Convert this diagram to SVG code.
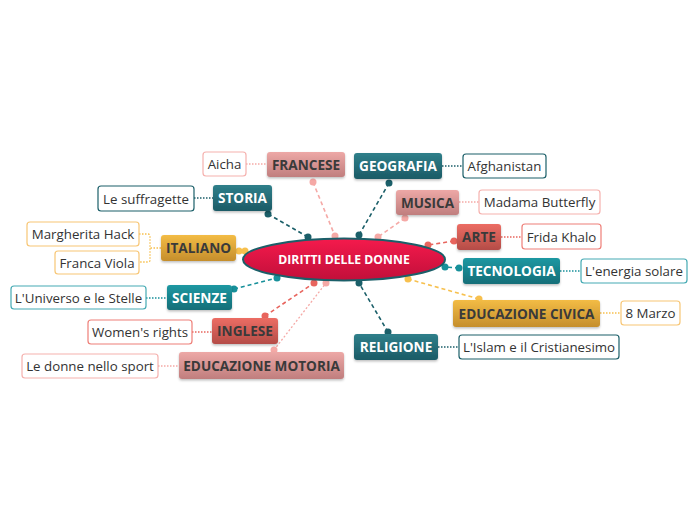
<svg xmlns="http://www.w3.org/2000/svg" width="697" height="520" viewBox="0 0 697 520">
<defs>
<linearGradient id="gPink" x1="0" y1="0" x2="0" y2="1"><stop offset="0" stop-color="#eda8a6"/><stop offset="1" stop-color="#c07e7e"/></linearGradient>
<linearGradient id="gTeal" x1="0" y1="0" x2="0" y2="1"><stop offset="0" stop-color="#2f7f8a"/><stop offset="1" stop-color="#1b5b66"/></linearGradient>
<linearGradient id="gBright" x1="0" y1="0" x2="0" y2="1"><stop offset="0" stop-color="#1d98a2"/><stop offset="1" stop-color="#126e78"/></linearGradient>
<linearGradient id="gRed" x1="0" y1="0" x2="0" y2="1"><stop offset="0" stop-color="#ec6d64"/><stop offset="1" stop-color="#b44c47"/></linearGradient>
<linearGradient id="gGold" x1="0" y1="0" x2="0" y2="1"><stop offset="0" stop-color="#f3bc45"/><stop offset="1" stop-color="#c58e2c"/></linearGradient>
<linearGradient id="gCenter" x1="0" y1="0" x2="0" y2="1"><stop offset="0" stop-color="#f51a4c"/><stop offset="1" stop-color="#c10f3a"/></linearGradient>
<filter id="sh" x="-10%" y="-20%" width="120%" height="150%"><feDropShadow dx="0" dy="1.5" stdDeviation="1.2" flood-color="#000" flood-opacity="0.25"/></filter>
</defs>
<style>
text{font-family:"Open Sans","Noto Sans","DejaVu Sans",sans-serif;text-anchor:middle}
.m{font-size:13.6px;font-weight:bold}
.dk{fill:#3a3a3a}
.wt{fill:#ffffff}
.s{font-size:13.3px;fill:#333333}
.sub{fill:#ffffff;stroke-width:1.2}
.c{fill:none;stroke-width:1.6;stroke-dasharray:4 3}
.d{fill:none;stroke-width:1.3;stroke-dasharray:1.5 1.5}
</style>
<g id="connectors">
<line class="c" x1="313" y1="182" x2="335" y2="236" stroke="#f5a9a6"/>
<circle cx="313" cy="182" r="3.5" fill="#f5a9a6"/><circle cx="335" cy="236" r="3.5" fill="#f5a9a6"/>
<line class="c" x1="389" y1="183" x2="359" y2="235" stroke="#1b5f69"/>
<circle cx="389" cy="183" r="3.5" fill="#1b5f69"/><circle cx="359" cy="235" r="3.5" fill="#1b5f69"/>
<line class="c" x1="268" y1="214" x2="308" y2="237" stroke="#1b5f69"/>
<circle cx="268" cy="214" r="3.5" fill="#1b5f69"/><circle cx="308" cy="237" r="3.5" fill="#1b5f69"/>
<line class="c" x1="405" y1="218" x2="378" y2="237" stroke="#f5a9a6"/>
<circle cx="405" cy="218" r="3.5" fill="#f5a9a6"/><circle cx="378" cy="237" r="3.5" fill="#f5a9a6"/>
<line class="c" x1="454" y1="241" x2="428" y2="245" stroke="#e8655e"/>
<circle cx="454" cy="241" r="3.5" fill="#e8655e"/><circle cx="428" cy="245" r="3.5" fill="#e8655e"/>
<line class="c" x1="459" y1="268" x2="445" y2="267" stroke="#17909a"/>
<circle cx="459" cy="268" r="3.5" fill="#17909a"/><circle cx="445" cy="267" r="3.5" fill="#17909a"/>
<line class="c" x1="479" y1="299" x2="408" y2="279" stroke="#f7c04e"/>
<circle cx="479" cy="299" r="3.5" fill="#f7c04e"/><circle cx="408" cy="279" r="3.5" fill="#f7c04e"/>
<line class="c" x1="388" y1="332" x2="359" y2="283" stroke="#1b5f69"/>
<circle cx="388" cy="332" r="3.5" fill="#1b5f69"/><circle cx="359" cy="283" r="3.5" fill="#1b5f69"/>
<circle cx="239" cy="251" r="3.5" fill="#f7c04e"/><circle cx="245" cy="251" r="3.5" fill="#f7c04e"/>
<line class="c" x1="234" y1="289" x2="277" y2="278" stroke="#17909a"/>
<circle cx="234" cy="289" r="3.5" fill="#17909a"/><circle cx="277" cy="278" r="3.5" fill="#17909a"/>
<line class="c" x1="265" y1="316" x2="314" y2="283" stroke="#e8655e"/>
<circle cx="265" cy="316" r="3.5" fill="#e8655e"/><circle cx="314" cy="283" r="3.5" fill="#e8655e"/>
<line x1="274" y1="350" x2="326" y2="283" stroke="#f5a9a6" stroke-width="1.3" stroke-dasharray="2 2"/>
<circle cx="274" cy="350" r="3.5" fill="#f5a9a6"/><circle cx="326" cy="283" r="3.5" fill="#f5a9a6"/>
<line class="d" x1="246" y1="164" x2="267" y2="164" stroke="#f5a9a6"/>
<line class="d" x1="442" y1="166" x2="463" y2="166" stroke="#1b5f69"/>
<line class="d" x1="194" y1="198" x2="213" y2="198" stroke="#1b5f69"/>
<line class="d" x1="459" y1="202" x2="479" y2="202" stroke="#f5a9a6"/>
<line class="d" x1="501" y1="237" x2="522" y2="237" stroke="#e8655e"/>
<line class="d" x1="560" y1="271" x2="581" y2="271" stroke="#17909a"/>
<line class="d" x1="600" y1="313" x2="621" y2="313" stroke="#f7c04e"/>
<line class="d" x1="438" y1="347" x2="459" y2="347" stroke="#1b5f69"/>
<line class="d" x1="146" y1="298" x2="167" y2="298" stroke="#17909a"/>
<line class="d" x1="192" y1="332" x2="212" y2="332" stroke="#e8655e"/>
<line class="d" x1="158" y1="366" x2="179" y2="366" stroke="#f5a9a6"/>
<path class="d" d="M161 248 H150 M139 234 H148 Q150 234 150 236 V260 Q150 262 148 262 H139" stroke="#f7c04e"/>
</g>
<g id="center">
<ellipse cx="344" cy="259.5" rx="101" ry="21" fill="url(#gCenter)" stroke="#1b5f69" stroke-width="2"/>
<text x="344" y="264" class="wt" style="font-size:12.2px;font-weight:bold">DIRITTI DELLE DONNE</text>
</g>
<g id="francese"><rect x="267" y="152" width="78" height="25" rx="3" fill="url(#gPink)" filter="url(#sh)"/><text x="306" y="169.5" class="m dk">FRANCESE</text></g>
<g id="aicha"><rect x="203" y="152" width="43" height="24" rx="3" class="sub" stroke="#f5b1ae"/><text x="224.5" y="169" class="s">Aicha</text></g>
<g id="geografia"><rect x="354" y="153" width="88" height="26" rx="3" fill="url(#gTeal)" filter="url(#sh)"/><text x="398" y="171" class="m wt">GEOGRAFIA</text></g>
<g id="afghanistan"><rect x="463" y="154" width="83" height="24" rx="3" class="sub" stroke="#1b5f69"/><text x="504.5" y="171" class="s">Afghanistan</text></g>
<g id="storia"><rect x="213" y="185" width="59" height="26" rx="3" fill="url(#gTeal)" filter="url(#sh)"/><text x="242.5" y="203" class="m wt">STORIA</text></g>
<g id="suffragette"><rect x="98" y="186" width="96" height="25" rx="3" class="sub" stroke="#1b5f69"/><text x="146" y="203.5" class="s">Le suffragette</text></g>
<g id="musica"><rect x="396" y="190" width="63" height="25" rx="3" fill="url(#gPink)" filter="url(#sh)"/><text x="427.5" y="207.5" class="m dk">MUSICA</text></g>
<g id="butterfly"><rect x="479" y="190" width="121" height="24" rx="3" class="sub" stroke="#f5b1ae"/><text x="539.5" y="207" class="s">Madama Butterfly</text></g>
<g id="arte"><rect x="457" y="224" width="44" height="26" rx="3" fill="url(#gRed)" filter="url(#sh)"/><text x="479" y="242" class="m dk">ARTE</text></g>
<g id="frida"><rect x="522" y="224" width="79" height="25" rx="3" class="sub" stroke="#ee7f78"/><text x="561.5" y="241.5" class="s">Frida Khalo</text></g>
<g id="italiano"><rect x="161" y="235" width="75" height="26" rx="3" fill="url(#gGold)" filter="url(#sh)"/><text x="198.5" y="253" class="m dk">ITALIANO</text></g>
<g id="hack"><rect x="27" y="222" width="112" height="24" rx="3" class="sub" stroke="#f7c675"/><text x="83" y="239" class="s">Margherita Hack</text></g>
<g id="viola"><rect x="55" y="251" width="84" height="23" rx="3" class="sub" stroke="#f7c675"/><text x="97" y="267.5" class="s">Franca Viola</text></g>
<g id="tecnologia"><rect x="463" y="258" width="97" height="26" rx="3" fill="url(#gBright)" filter="url(#sh)"/><text x="511.5" y="276" class="m wt">TECNOLOGIA</text></g>
<g id="solare"><rect x="581" y="259" width="106" height="24" rx="3" class="sub" stroke="#45aab3"/><text x="634" y="276" class="s">L'energia solare</text></g>
<g id="scienze"><rect x="167" y="285" width="65" height="25" rx="3" fill="url(#gBright)" filter="url(#sh)"/><text x="199.5" y="302.5" class="m wt">SCIENZE</text></g>
<g id="universo"><rect x="11" y="286" width="135" height="23" rx="3" class="sub" stroke="#45aab3"/><text x="78.5" y="302.5" class="s">L'Universo e le Stelle</text></g>
<g id="civica"><rect x="453" y="300" width="147" height="27" rx="3" fill="url(#gGold)" filter="url(#sh)"/><text x="526.5" y="318.5" class="m dk">EDUCAZIONE CIVICA</text></g>
<g id="marzo"><rect x="621" y="301" width="59" height="24" rx="3" class="sub" stroke="#f7c675"/><text x="650.5" y="318" class="s">8 Marzo</text></g>
<g id="inglese"><rect x="212" y="318" width="66" height="26" rx="3" fill="url(#gRed)" filter="url(#sh)"/><text x="245" y="336" class="m dk">INGLESE</text></g>
<g id="womens"><rect x="88" y="320" width="104" height="24" rx="3" class="sub" stroke="#ee7f78"/><text x="140" y="337" class="s">Women's rights</text></g>
<g id="religione"><rect x="354" y="334" width="84" height="26" rx="3" fill="url(#gTeal)" filter="url(#sh)"/><text x="396" y="352" class="m wt">RELIGIONE</text></g>
<g id="islam"><rect x="459" y="335" width="160" height="24" rx="3" class="sub" stroke="#1b5f69"/><text x="539" y="352" class="s">L'Islam e il Cristianesimo</text></g>
<g id="motoria"><rect x="179" y="352" width="165" height="27" rx="3" fill="url(#gPink)" filter="url(#sh)"/><text x="261.5" y="370.5" class="m dk">EDUCAZIONE MOTORIA</text></g>
<g id="sport"><rect x="22" y="354" width="136" height="24" rx="3" class="sub" stroke="#f5b1ae"/><text x="90" y="371" class="s">Le donne nello sport</text></g>
</svg>
